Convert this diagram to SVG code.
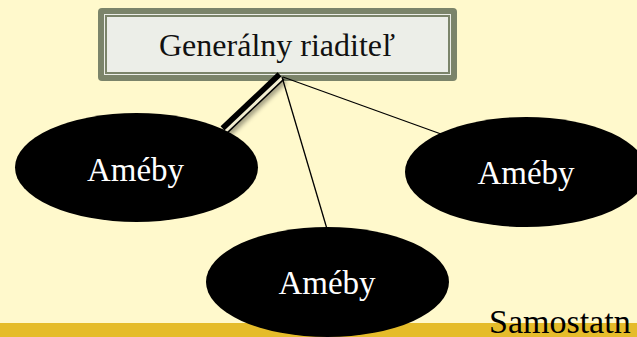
<svg xmlns="http://www.w3.org/2000/svg" width="637" height="337" viewBox="0 0 637 337">
  <defs>
    <filter id="soft" x="-20%" y="-20%" width="140%" height="140%">
      <feGaussianBlur stdDeviation="2"/>
    </filter>
  </defs>
  <style>
    .bg { fill: #FFF9CC; }
    .band { fill: #E5BC2A; }
    .frame { fill: #7B846A; }
    .panel { fill: #ECEEE8; }
    .rule { fill: none; stroke: #7B846A; stroke-width: 2; }
    .title { font-family: "Liberation Serif", "Times New Roman", serif; font-size: 32px; fill: #111111; text-anchor: middle; }
    .unit { fill: #000000; }
    .unit-label { font-family: "Liberation Serif", "Times New Roman", serif; font-size: 33px; fill: #FFFFFF; text-anchor: middle; }
    .link { stroke: #000000; stroke-width: 1.3; fill: none; }
    .caption { font-family: "Liberation Serif", "Times New Roman", serif; font-size: 34px; fill: #000000; }
  </style>

  <!-- page background and footer band -->
  <rect class="bg" x="0" y="0" width="637" height="337"/>
  <rect class="band" x="0" y="323" width="637" height="14"/>

  <!-- top node: director -->
  <g id="director">
    <rect class="frame" x="98" y="8" width="359" height="73" rx="4"/>
    <rect class="panel" x="104" y="14" width="347" height="61"/>
    <rect class="rule" x="106" y="16" width="343" height="57"/>
    <text class="title" x="277" y="56">Generálny riaditeľ</text>
  </g>

  <!-- connectors -->
  <g id="connectors">
    <!-- double rule to the left unit, with a soft drop shadow -->
    <line x1="284" y1="80" x2="227" y2="134" stroke="#000000" stroke-opacity="0.35" stroke-width="8" filter="url(#soft)"/>
    <line x1="281" y1="76" x2="224" y2="130" stroke="#000000" stroke-width="10"/>
    <line x1="282.4" y1="77.5" x2="225.4" y2="131.5" stroke="#F3EFD2" stroke-width="3"/>
    <line class="link" x1="282" y1="77" x2="327" y2="229"/>
    <line class="link" x1="283" y1="77" x2="441" y2="134"/>
  </g>

  <!-- unit nodes -->
  <g id="unit-left">
    <ellipse class="unit" cx="136.5" cy="167.5" rx="121.5" ry="54.5"/>
    <text class="unit-label" x="135.5" y="181">Améby</text>
  </g>
  <g id="unit-right">
    <ellipse class="unit" cx="526" cy="172" rx="121" ry="55"/>
    <text class="unit-label" x="526" y="184">Améby</text>
  </g>
  <g id="unit-bottom">
    <ellipse class="unit" cx="327.5" cy="282" rx="121.5" ry="55"/>
    <text class="unit-label" x="327" y="294">Améby</text>
  </g>

  <!-- footer caption -->
  <text class="caption" x="489" y="333">Samostatn</text>
</svg>
